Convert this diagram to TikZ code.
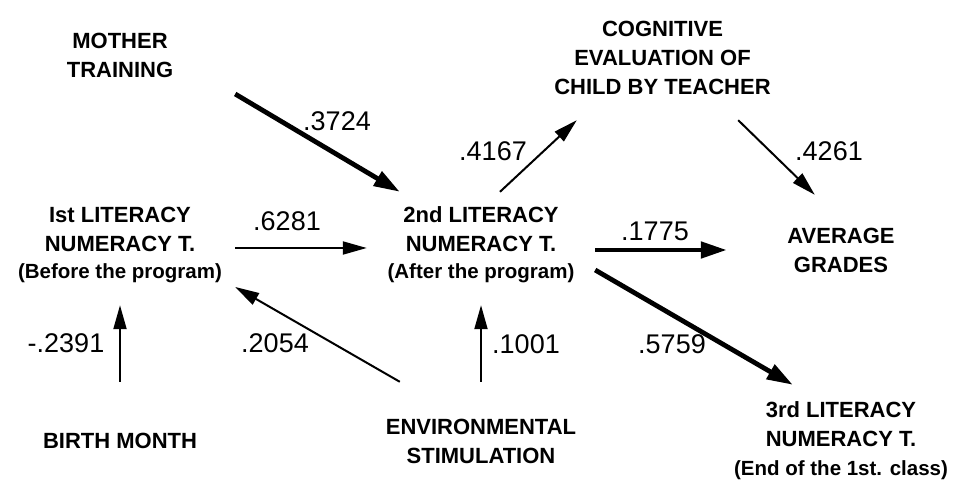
\documentclass[tikz,border=0pt]{standalone}
\usepackage{fontspec}
\setmainfont{Liberation Sans}
\usepackage{tikz}
\usetikzlibrary{arrows.meta}

\newcommand{\boxfont}{\fontsize{22}{29}\selectfont\bfseries}
\newcommand{\notefont}{\fontsize{20.5}{27}\selectfont}
\newcommand{\coeffont}{\fontsize{27}{30}\selectfont}

\begin{document}
\begin{tikzpicture}[x=1pt, y=1pt,
    varbox/.style={minimum width=230pt, minimum height=112pt, inner sep=0pt, align=center, font=\boxfont},
    lightpath/.style={-{Triangle[length=24pt, width=13pt]}, line width=2pt},
    heavypath/.style={-{Triangle[length=26pt, width=16pt]}, line width=4.8pt},
    coef/.style={font=\coeffont, inner sep=0pt}]
    \useasboundingbox (0, 0) rectangle (958, 501);

    % draw variable boxes (left column)
    \node[varbox, minimum height=120pt] (mother) at (120, 446) {MOTHER\\TRAINING};
    \node[varbox, minimum height=120pt] (first) at (120, 256)
      {Ist LITERACY\\NUMERACY T.\\[-2pt]{\notefont(Before the program)}};
    \node[varbox, minimum height=118pt] (birth) at (120, 60) {BIRTH MONTH};

    % middle column
    \node[varbox, minimum width=228pt, minimum height=120pt] (second) at (481, 256)
      {2nd LITERACY\\NUMERACY T.\\[-2pt]{\notefont(After the program)}};
    \node[varbox, minimum width=228pt, minimum height=119pt] (env) at (481, 59.5) {ENVIRONMENTAL\\STIMULATION};

    % right column
    \node[varbox, minimum width=265pt, minimum height=125pt] (cog) at (662.5, 443.5)
      {COGNITIVE\\EVALUATION OF\\CHILD BY TEACHER};
    \node[varbox, minimum width=228pt, minimum height=110pt] (avg) at (841, 251) {AVERAGE\\GRADES};
    \node[varbox, minimum width=228pt] (third) at (841, 60)
      {3rd LITERACY\\NUMERACY T.\\{\notefont(End of the 1st. class)}};

    % draw paths
    \draw[heavypath] ([yshift=-39]mother.east) -- ([xshift=33, yshift=-7]second.north west);
    \draw[lightpath] ([yshift=-3]first.east) -- ([yshift=-3]second.west);
    \draw[lightpath] (birth.north) -- (first.south);
    \draw[lightpath] ([xshift=33]env.north west) -- ([yshift=-42]first.east);
    \draw[lightpath] (env.north) -- (second.south);
    \draw[lightpath] ([xshift=19, yshift=-7]second.north) -- ([xshift=47]cog.south west);
    \draw[lightpath] ([xshift=-57]cog.south east) -- ([xshift=88]avg.north west);
    \draw[heavypath] ([yshift=-5]second.east) -- ([yshift=-5]second.east -| avg.west);
    \draw[heavypath] ([yshift=-25]second.east) -- ([xshift=66]third.north west);

    % path coefficients
    \node[coef] (c1) at (337, 380) {.3724};
    \node[coef] (c2) at (287, 280) {.6281};
    \node[coef] (c3) at (66, 158) {-.2391};
    \node[coef] (c4) at (275, 158) {.2054};
    \node[coef] (c5) at (526, 157) {.1001};
    \node[coef] (c6) at (493, 350) {.4167};
    \node[coef] (c7) at (829, 350) {.4261};
    \node[coef] (c8) at (655, 270) {.1775};
    \node[coef] (c9) at (672, 157) {.5759};
\end{tikzpicture}
\end{document}
